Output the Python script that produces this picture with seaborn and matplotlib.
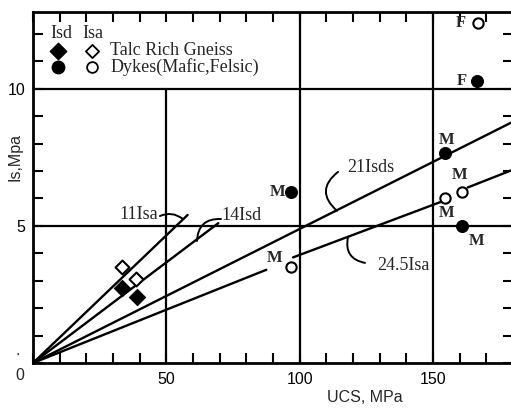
import matplotlib
matplotlib.use("Agg")
import matplotlib.pyplot as plt
import seaborn as sns
import pandas as pd

# ---------------- data ----------------
talc_isd_ucs = [33.5, 39.0]
talc_isd_is = [2.75, 2.40]
talc_isa_ucs = [33.5, 38.5]
talc_isa_is = [3.50, 3.05]

dyke_isd_ucs = [96.7, 154.5, 161.0, 166.5]
dyke_isd_is = [6.25, 7.65, 5.00, 10.30]
dyke_isd_lab = ["M", "M", "M", "F"]

dyke_isa_ucs = [96.7, 154.5, 160.8, 166.8]
dyke_isa_is = [3.50, 6.00, 6.25, 12.40]
dyke_isa_lab = ["M", "M", "M", "F"]

# correlation lines (segment id, endpoints)
line_seg = ["11Isa", "11Isa", "14Isd", "14Isd", "21Isds", "21Isds",
            "24.5Isa_a", "24.5Isa_a", "24.5Isa_b", "24.5Isa_b",
            "24.5Isa_c", "24.5Isa_c"]
line_ucs = [0, 58.0, 0, 69.5, 0, 180.0, 0, 87.5, 97.5, 155.0, 163.0, 180.0]
line_is = [0, 5.40, 0, 5.10, 0, 8.80, 0, 3.40, 3.85, 5.95, 6.40, 7.05]

x_major = [0, 50, 100, 150]
x_major_lab = ["", "50", "100", "150"]
y_major = [0, 5, 10]
y_major_lab = ["", "5", "10"]

# ---------------- style ----------------
sns.set_style("ticks")
plt.rcParams["font.family"] = ["Liberation Sans", "DejaVu Sans"]
SERIF = ["Liberation Serif", "DejaVu Serif"]

fig = plt.figure(figsize=(5.11, 4.09), dpi=100)
ax = fig.add_axes([33 / 511, 1 - 363 / 409, 480 / 511, 351 / 409])
ax.set_xlim(0, 180)
ax.set_ylim(0, 12.8)

# grid lines (thick, as in the scan)
for yv in [5, 10]:
    ax.axhline(yv, color="black", lw=1.6, zorder=1)
ax.axvline(50, ymax=10 / 12.8, color="black", lw=1.6, zorder=1)
for xv in [100, 150]:
    ax.axvline(xv, color="black", lw=1.6, zorder=1)

lines_df = pd.DataFrame({"seg": line_seg, "ucs": line_ucs, "is": line_is})
sns.lineplot(data=lines_df, x="ucs", y="is", units="seg", estimator=None,
             color="black", lw=1.7, ax=ax, legend=False, zorder=2)

# points
sns.scatterplot(x=talc_isd_ucs, y=talc_isd_is, marker="D", s=70,
                color="black", edgecolor="black", ax=ax, zorder=4)
sns.scatterplot(x=talc_isa_ucs, y=talc_isa_is, marker="D", s=50,
                facecolor="white", edgecolor="black", linewidth=1.5, ax=ax, zorder=4)
sns.scatterplot(x=dyke_isd_ucs, y=dyke_isd_is, marker="o", s=75,
                color="black", edgecolor="black", ax=ax, zorder=4)
sns.scatterplot(x=dyke_isa_ucs, y=dyke_isa_is, marker="o", s=55,
                facecolor="white", edgecolor="black", linewidth=1.5, ax=ax, zorder=4)

lab_kw = dict(textcoords="offset pixels", ha="center", va="center",
              fontsize=12, family=SERIF, fontweight="bold")
isd_off = [(-13, 0), (2, 13), (14, -15), (-15, 0)]
isa_off = [(-16, 9), (2, -15), (-2, 17), (-17, 0)]
for x, y, t, o in zip(dyke_isd_ucs, dyke_isd_is, dyke_isd_lab, isd_off):
    ax.annotate(t, (x, y), xytext=o, **lab_kw)
for x, y, t, o in zip(dyke_isa_ucs, dyke_isa_is, dyke_isa_lab, isa_off):
    ax.annotate(t, (x, y), xytext=o, **lab_kw)

# line labels with curved leaders
tkw = dict(fontsize=13, family=SERIF, va="center")
akw = dict(arrowstyle="-", lw=1.4, color="black", shrinkA=0, shrinkB=0)
ax.text(46.8, 5.42, "11Isa", ha="right", **tkw)
ax.annotate("", xy=(56.2, 5.25), xytext=(47.6, 5.36),
            arrowprops=dict(connectionstyle="arc3,rad=-0.3", **akw))
ax.text(70.8, 5.38, "14Isd", ha="left", **tkw)
ax.annotate("", xy=(61.5, 4.45), xytext=(70.5, 5.25),
            arrowprops=dict(connectionstyle="arc3,rad=0.5", **akw))
ax.text(117.7, 7.12, "21Isds", ha="left", **tkw)
ax.annotate("", xy=(114.0, 5.55), xytext=(114.4, 6.97),
            arrowprops=dict(connectionstyle="arc3,rad=0.6", **akw))
ax.text(129.2, 3.55, "24.5Isa", ha="left", **tkw)
ax.annotate("", xy=(124.5, 3.65), xytext=(118.1, 4.58),
            arrowprops=dict(connectionstyle="arc3,rad=0.5", **akw))

# legend block
lkw = dict(fontsize=13, family=SERIF, va="center", ha="left")
ax.text(6.4, 12.03, "Isd", **lkw)
ax.text(18.7, 12.03, "Isa", **lkw)
ax.scatter([9.4], [11.38], marker="D", s=70, color="black", zorder=5)
ax.scatter([22.1], [11.38], marker="D", s=45, facecolor="white", edgecolor="black", lw=1.3, zorder=5)
ax.scatter([9.4], [10.78], marker="o", s=80, color="black", zorder=5)
ax.scatter([22.1], [10.78], marker="o", s=60, facecolor="white", edgecolor="black", lw=1.3, zorder=5)
ax.text(28.9, 11.4, "Talc Rich Gneiss", **lkw)
ax.text(28.9, 10.78, "Dykes(Mafic,Felsic)", **lkw)

# axes, ticks
ax.set_xticks(x_major)
ax.set_xticklabels(x_major_lab)
ax.set_xticks(list(range(10, 180, 10)), minor=True)
ax.set_yticks(y_major)
ax.set_yticklabels(y_major_lab)
ax.set_yticks([1, 2, 3, 4, 6, 7, 8, 9, 11, 12], minor=True)
ax.tick_params(which="both", direction="in", top=True, right=True,
               length=7, width=1.5, colors="black", labelsize=11.5)
ax.tick_params(axis="x", which="both", pad=6.5)
ax.tick_params(axis="y", which="both", pad=5.5)
ax.text(-4.9, -0.47, "0", ha="center", va="center", fontsize=11.5, clip_on=False)
ax.text(-5.6, 0.3, ".", ha="center", va="baseline", fontsize=11.5, clip_on=False)

for side in ["left", "bottom", "top"]:
    ax.spines[side].set_linewidth(2.0)
    ax.spines[side].set_color("black")
ax.spines["right"].set_visible(False)

ax.set_xlabel("UCS, MPa", fontsize=11.5)
ax.xaxis.set_label_coords((365 - 33) / 480, (363 - 397) / 351)
ax.xaxis.label.set_va("center")
ax.set_ylabel("Is,Mpa", fontsize=11.5)
ax.yaxis.set_label_coords((15 - 33) / 480, (363 - 157) / 351)
ax.yaxis.label.set_va("center")

fig.savefig("out.png", dpi=100)
